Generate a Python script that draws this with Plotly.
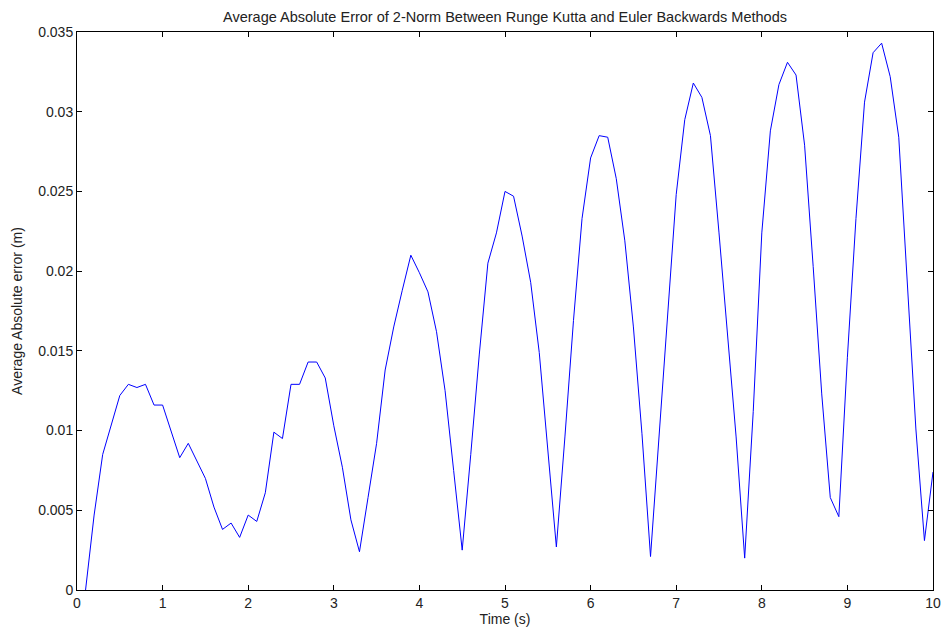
import plotly.graph_objects as go

time_s = [round(0.1 * i, 1) for i in range(1, 101)]
avg_abs_error = [
    0.0000, 0.0047, 0.0085, 0.0104, 0.0122, 0.0129, 0.0127, 0.0129, 0.0116, 0.0116,
    0.0100, 0.0083, 0.0092, 0.0081, 0.0070, 0.0052, 0.0038, 0.0042, 0.0033, 0.0047,
    0.0043, 0.0061, 0.0099, 0.0095, 0.0129, 0.0129, 0.0143, 0.0143, 0.0133, 0.0103,
    0.0077, 0.0044, 0.0024, 0.0058, 0.0092, 0.0138, 0.0165, 0.0188, 0.0210, 0.0199,
    0.0187, 0.0162, 0.0125, 0.0075, 0.0025, 0.0085, 0.0148, 0.0205, 0.0224, 0.0250,
    0.0247, 0.0222, 0.0193, 0.0149, 0.0086, 0.0027, 0.0096, 0.0169, 0.0233, 0.0271,
    0.0285, 0.0284, 0.0258, 0.0219, 0.0165, 0.0098, 0.0021, 0.0096, 0.0177, 0.0248,
    0.0295, 0.0318, 0.0309, 0.0285, 0.0224, 0.0160, 0.0096, 0.0020, 0.0112, 0.0224,
    0.0288, 0.0317, 0.0331, 0.0323, 0.0279, 0.0203, 0.0123, 0.0058, 0.0046, 0.0146,
    0.0233, 0.0306, 0.0337, 0.0343, 0.0322, 0.0284, 0.0192, 0.0101, 0.0031, 0.0074,
]
x_ticks = [0, 1, 2, 3, 4, 5, 6, 7, 8, 9, 10]
y_ticks = [0, 0.005, 0.01, 0.015, 0.02, 0.025, 0.03, 0.035]
y_tick_labels = ["0", "0.005", "0.01", "0.015", "0.02", "0.025", "0.03", "0.035"]

font_family = "Liberation Sans, Arial, sans-serif"

fig = go.Figure()
fig.add_trace(go.Scatter(
    x=time_s, y=avg_abs_error, mode="lines",
    line=dict(color="#0000ff", width=1), showlegend=False, hoverinfo="skip",
))

axis_common = dict(
    showgrid=False, zeroline=False, showline=True, linecolor="black", linewidth=1,
    mirror="allticks", ticks="inside", ticklen=5, tickcolor="black", tickwidth=1,
    tickfont=dict(family=font_family, size=14, color="#222222"),
    automargin=False,
)

fig.update_layout(
    width=942, height=632,
    margin=dict(l=77, r=9, t=32, b=42),
    paper_bgcolor="white", plot_bgcolor="white",
    title=dict(
        text="Average Absolute Error of 2-Norm Between Runge Kutta and Euler Backwards Methods",
        x=0.5, xanchor="center", xref="paper", y=1 - 17 / 632, yanchor="middle",
        font=dict(family=font_family, size=14.5, color="#222222"),
    ),
    xaxis=dict(
        range=[0, 10], tickvals=x_ticks,
        title=dict(text="Time (s)", font=dict(family=font_family, size=14, color="#222222"), standoff=4),
        **axis_common,
    ),
    yaxis=dict(
        range=[0, 0.035], tickvals=y_ticks, ticktext=y_tick_labels,
        title=dict(text="Average Absolute error (m)", font=dict(family=font_family, size=14, color="#222222"), standoff=12),
        **axis_common,
    ),
)

fig.write_html(
    "out.html",
    config={"displayModeBar": False, "staticPlot": True},
    post_script="document.body.style.margin='0';document.body.style.padding='0';document.body.style.overflow='hidden';",
)
